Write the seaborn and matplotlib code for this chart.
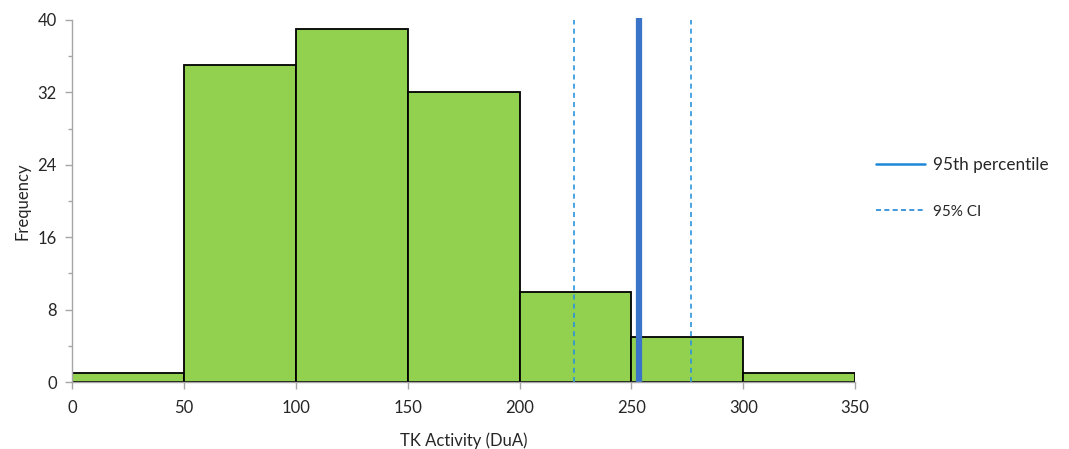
import numpy as np
import pandas as pd
import seaborn as sns
import matplotlib.pyplot as plt
from matplotlib.lines import Line2D

# Histogram of TK activity: bin edges and counts per bin
bin_edges = [0, 50, 100, 150, 200, 250, 300, 350]
bin_counts = [1, 35, 39, 32, 10, 5, 1]

# Reference lines
percentile_95 = 253.2
ci_95 = [224.4, 276.7]

x_ticks = [0, 50, 100, 150, 200, 250, 300, 350]
y_ticks = [0, 8, 16, 24, 32, 40]

sns.set_theme(style="white")
plt.rcParams['font.family'] = ['Lato', 'DejaVu Sans']

centers = [(a + b) / 2 for a, b in zip(bin_edges[:-1], bin_edges[1:])]
df = pd.DataFrame({"activity": centers, "count": bin_counts})

fig = plt.figure(figsize=(10.69, 4.49), dpi=100)
ax = fig.add_axes([0.0674, 0.1492, 0.7326, 0.8063])

sns.histplot(data=df, x="activity", weights="count", bins=bin_edges,
             color="#92D050", alpha=1, edgecolor="black", linewidth=1.3, ax=ax)

ax.axvline(percentile_95, color="#3A74C8", linewidth=4.5, ymax=1.005,
           clip_on=False, solid_capstyle="butt")
for v in ci_95:
    ax.axvline(v, color="#2A93DC", linewidth=1.2, linestyle=(0, (3, 2.5)))

ax.set_xlim(0, 350)
ax.set_ylim(0, 40)
ax.set_xticks(x_ticks)
ax.set_yticks(y_ticks)
ax.set_yticks(np.arange(4, 40, 8), minor=True)

for s in ["top", "right"]:
    ax.spines[s].set_visible(False)
for s in ["left", "bottom"]:
    ax.spines[s].set_color("#A6A6A6")
    ax.spines[s].set_linewidth(1.0)

ax.tick_params(axis="both", which="both", direction="out", color="#A6A6A6",
               labelsize=12, labelcolor="#262626")
ax.tick_params(axis="x", which="major", length=5, width=1, bottom=True, pad=8)
ax.tick_params(axis="y", which="major", length=5, width=1, left=True, pad=6)
ax.tick_params(axis="y", which="minor", length=3, width=1, left=True)

ax.set_xlabel("TK Activity (DuA)", fontsize=12, color="#262626", labelpad=12)
ax.set_ylabel("Frequency", fontsize=12, color="#262626", labelpad=5)

handles = [Line2D([], [], color="#1E88D8", linewidth=1.8),
           Line2D([], [], color="#1E88D8", linewidth=1.2, linestyle=(0, (3, 2)))]
leg = fig.legend(handles, ["95th percentile", "95% CI"], loc="upper left",
                 bbox_to_anchor=(0.805, 0.685), frameon=False, handlelength=2.9,
                 handletextpad=0.45, labelspacing=1.85, fontsize=12.3)
leg.get_texts()[1].set_fontsize(11)
for t in leg.get_texts():
    t.set_color("#262626")

fig.savefig("out.png", dpi=100)
